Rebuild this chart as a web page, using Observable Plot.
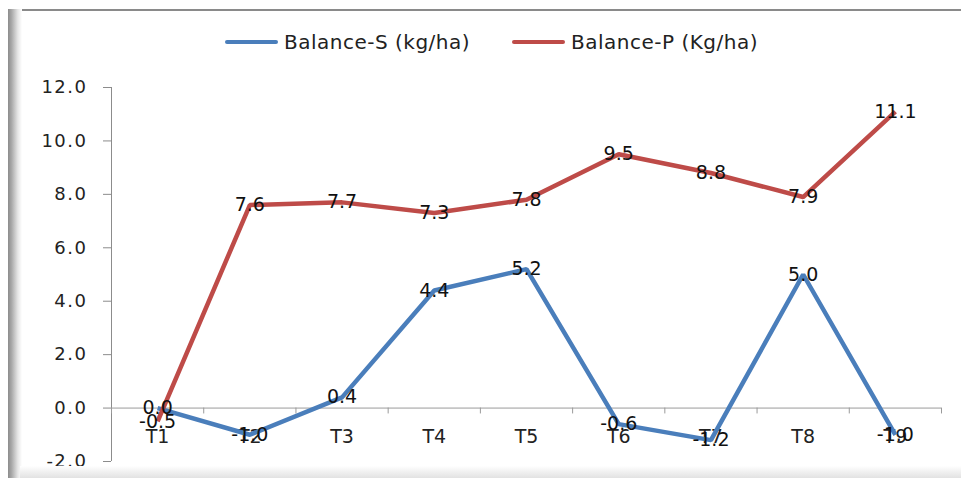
<!DOCTYPE html>
<html>
<head>
<meta charset="utf-8">
<script src="https://cdn.jsdelivr.net/npm/d3@7"></script>
<script src="https://cdn.jsdelivr.net/npm/@observablehq/plot@0.6"></script>
<style>
  html, body { margin: 0; padding: 0; background: #fff; }
  #wrap { position: relative; width: 961px; height: 478px; overflow: hidden; background: #fff; font-family: "DejaVu Sans", sans-serif; }
  #legend { height: 60px; box-sizing: border-box; padding-top: 30px; position: relative; }
  .item { position: absolute; top: 30px; height: 24px; display: flex; align-items: center; font-size: 20px; letter-spacing: 0.5px; color: #222; white-space: nowrap; }
  .swatch { display: inline-block; width: 53px; height: 4px; border-radius: 2px; margin-right: 6px; }
  .deco { position: absolute; pointer-events: none; }
  svg { display: block; }
  g[aria-label="y-axis tick label"] text { letter-spacing: 1.5px; }
</style>
</head>
<body>
<div id="wrap">
  <div class="deco" style="left:8px; top:9px; width:953px; height:2px; background:#8a8a8a;"></div>
  <div class="deco" style="left:8px; top:9px; width:14px; height:469px; background:linear-gradient(to right,#8c8c8c 0%,#a8a8a8 25%,#e6e6e6 70%,#ffffff 100%);"></div>
  <div class="deco" style="left:20px; top:466px; width:941px; height:12px; background:linear-gradient(to bottom,#ffffff 0%,#f0f0f0 50%,#e2e2e2 100%);"></div>
  <div id="legend"></div>
  <div id="chart"></div>
</div>
<script>
const categories = ["T1", "T2", "T3", "T4", "T5", "T6", "T7", "T8", "T9"];
const balanceS = [0.0, -1.0, 0.4, 4.4, 5.2, -0.6, -1.2, 5.0, -1.0];
const balanceP = [-0.5, 7.6, 7.7, 7.3, 7.8, 9.5, 8.8, 7.9, 11.1];
const seriesNames = ["Balance-S (kg/ha)", "Balance-P (Kg/ha)"];
const seriesColors = ["#4A7EBB", "#BE4B48"];
const yTicks = [-2, 0, 2, 4, 6, 8, 10, 12];

const data = [];
categories.forEach((c, i) => {
  data.push({i, cat: c, series: seriesNames[0], v: balanceS[i]});
  data.push({i, cat: c, series: seriesNames[1], v: balanceP[i]});
});
const boundaries = d3.range(categories.length + 1).map(k => k - 0.5);
const fmt = d3.formatLocale({decimal: ".", thousands: ",", grouping: [3], currency: ["", ""], minus: "-"}).format(".1f");

// legend
const legend = document.getElementById("legend");
const legendLeft = [225, 512];
seriesNames.forEach((name, k) => {
  const it = document.createElement("div");
  it.className = "item";
  it.style.left = legendLeft[k] + "px";
  it.innerHTML = `<span class="swatch" style="background:${seriesColors[k]}"></span><span>${name}</span>`;
  legend.appendChild(it);
});

const plot = Plot.plot({
  width: 961,
  height: 418,
  marginLeft: 111,
  marginRight: 20,
  marginTop: 27,
  marginBottom: 17,
  style: {fontFamily: "DejaVu Sans, sans-serif", background: "transparent", overflow: "visible"},
  x: {type: "linear", domain: [-0.5, categories.length - 0.5], axis: null},
  y: {type: "linear", domain: [-2, 12], axis: null},
  color: {domain: seriesNames, range: seriesColors},
  marks: [
    Plot.axisY(yTicks, {tickFormat: fmt, tickSize: 8, tickPadding: 16, stroke: "#8c8c8c", fill: "#222", fontSize: 18, label: null}),
    Plot.ruleX([-0.5], {y1: -2, y2: 12, stroke: "#8c8c8c", strokeWidth: 1}),
    Plot.ruleY([0], {x1: -0.5, x2: categories.length - 0.5, stroke: "#9a9a9a", strokeWidth: 1}),
    Plot.ruleX(boundaries, {x: d => d, y1: 0, y2: -0.22, stroke: "#9a9a9a"}),
    Plot.text(categories, {x: (d, i) => i, y: 0, dy: 29, text: d => d, fontSize: 19, fill: "#222"}),
    Plot.line(data, {x: "i", y: "v", stroke: "series", z: "series", strokeWidth: 4.5, strokeLinejoin: "miter", strokeLinecap: "butt"}),
    Plot.text(data, {x: "i", y: "v", text: d => fmt(d.v), fontSize: 19, fill: "#111"})
  ]
});
document.getElementById("chart").appendChild(plot);
</script>
</body>
</html>
